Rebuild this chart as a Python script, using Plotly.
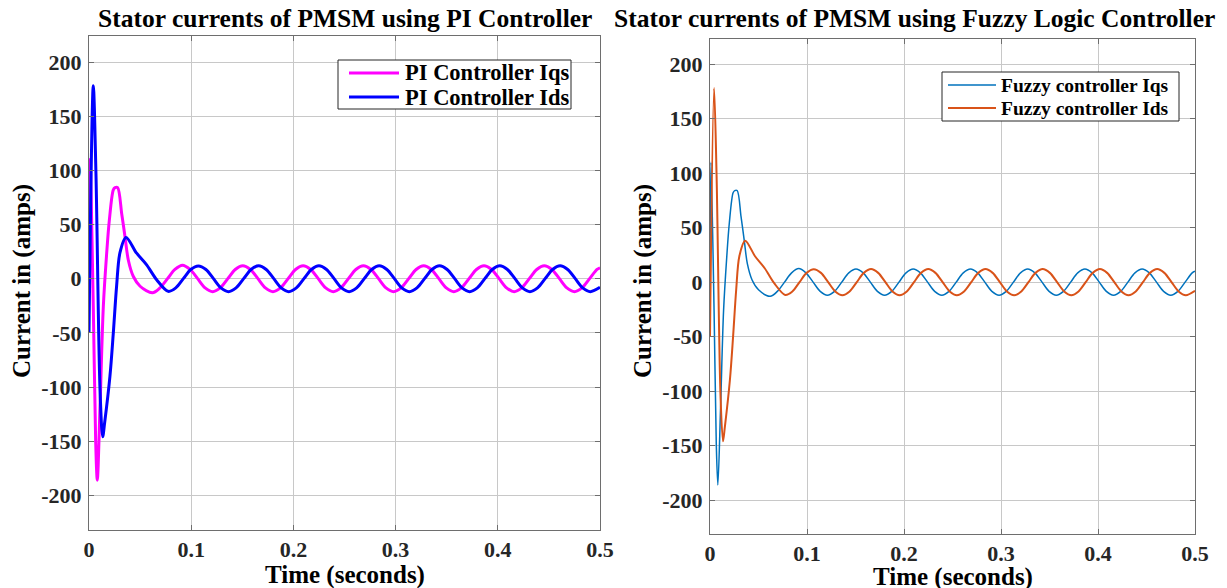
import plotly.graph_objects as go

# ---- data ----
t_iqs = [0, 0.001, 0.0042, 0.0065, 0.0081, 0.0108, 0.014, 0.0173, 0.0199, 0.0238, 0.0255, 0.028,
         0.032, 0.0352, 0.0385, 0.0434, 0.050,
         0.0620, 0.0694, 0.0768, 0.0841, 0.0915, 0.0989, 0.1063, 0.1136,
         0.1210, 0.1284, 0.1358, 0.1431, 0.1505, 0.1579, 0.1653, 0.1726,
         0.1800, 0.1874, 0.1948, 0.2021, 0.2095, 0.2169, 0.2243, 0.2316,
         0.2390, 0.2464, 0.2538, 0.2611, 0.2685, 0.2759, 0.2833, 0.2906,
         0.2980, 0.3054, 0.3128, 0.3201, 0.3275, 0.3349, 0.3423, 0.3496,
         0.3570, 0.3644, 0.3718, 0.3791, 0.3865, 0.3939, 0.4013, 0.4086,
         0.4160, 0.4234, 0.4308, 0.4381, 0.4455, 0.4529, 0.4603, 0.4676,
         0.4750, 0.4824, 0.4898, 0.4971, 0.500]
iqs = [10, 110, -26, -149, -186, -118, -26, 23.5, 54, 82, 84, 84,
       60, 39, 17, 2, -7,
       -13, -8.5, 0, 8.5, 12.4, 8.5, 0, -8.5,
       -12, -8.5, 0, 8.5, 12, 8.5, 0, -8.5,
       -12, -8.5, 0, 8.5, 12, 8.5, 0, -8.5,
       -12, -8.5, 0, 8.5, 12, 8.5, 0, -8.5,
       -12, -8.5, 0, 8.5, 12, 8.5, 0, -8.5,
       -12, -8.5, 0, 8.5, 12, 8.5, 0, -8.5,
       -12, -8.5, 0, 8.5, 12, 8.5, 0, -8.5,
       -12, -8.5, 0, 8.5, 10]

t_ids = [0, 0.0042, 0.0068, 0.0108, 0.0134, 0.0153, 0.0205, 0.0238, 0.027, 0.0303, 0.0362,
         0.0466, 0.0564, 0.0662,
         0.0775, 0.0849, 0.0923, 0.0996, 0.1070, 0.1144, 0.1218, 0.1291,
         0.1365, 0.1439, 0.1513, 0.1586, 0.1660, 0.1734, 0.1808, 0.1881,
         0.1955, 0.2029, 0.2103, 0.2176, 0.2250, 0.2324, 0.2398, 0.2471,
         0.2545, 0.2619, 0.2693, 0.2766, 0.2840, 0.2914, 0.2988, 0.3061,
         0.3135, 0.3209, 0.3283, 0.3356, 0.3430, 0.3504, 0.3578, 0.3651,
         0.3725, 0.3799, 0.3873, 0.3946, 0.4020, 0.4094, 0.4168, 0.4241,
         0.4315, 0.4389, 0.4463, 0.4536, 0.4610, 0.4684, 0.4758, 0.4831,
         0.4905, 0.500]
ids = [-50, 178, 97, -103, -146, -133, -90, -50, -7, 24, 38,
       23.5, 12.7, -1,
       -11.7, -8.5, 0, 8.5, 11.8, 8.5, 0, -8.5,
       -12, -8.5, 0, 8.5, 12, 8.5, 0, -8.5,
       -12, -8.5, 0, 8.5, 12, 8.5, 0, -8.5,
       -12, -8.5, 0, 8.5, 12, 8.5, 0, -8.5,
       -12, -8.5, 0, 8.5, 12, 8.5, 0, -8.5,
       -12, -8.5, 0, 8.5, 12, 8.5, 0, -8.5,
       -12, -8.5, 0, 8.5, 12, 8.5, 0, -8.5,
       -12, -8]

x_ticks = [0, 0.1, 0.2, 0.3, 0.4, 0.5]
x_ticktext = ["0", "0.1", "0.2", "0.3", "0.4", "0.5"]
y_ticks = [-200, -150, -100, -50, 0, 50, 100, 150, 200]
y_ticktext = ["-200", "-150", "-100", "-50", "0", "50", "100", "150", "200"]

left_names = ["PI Controller Iqs", "PI Controller Ids"]
right_names = ["Fuzzy controller Iqs", "Fuzzy controller Ids"]
left_colors = ["#FF00FF", "#0000FF"]
right_colors = ["#0072BD", "#D95319"]

# page body has an 8px margin: figure is placed at (8, 8) in the window
OFF = 8
W, H = 1227 - OFF, 588 - OFF
FONT = "Liberation Serif"

def px(x):
    return (x - OFF) / W

def py(y):
    return 1 - (y - OFF) / H

fig = go.Figure()

fig.add_trace(go.Scatter(x=t_iqs, y=iqs, mode="lines", name=left_names[0],
                         line=dict(color=left_colors[0], width=3, shape="spline", smoothing=0.9),
                         xaxis="x", yaxis="y"))
fig.add_trace(go.Scatter(x=t_ids, y=ids, mode="lines", name=left_names[1],
                         line=dict(color=left_colors[1], width=3, shape="spline", smoothing=0.9),
                         xaxis="x", yaxis="y"))
fig.add_trace(go.Scatter(x=t_iqs, y=iqs, mode="lines", name=right_names[0],
                         line=dict(color=right_colors[0], width=1.5, shape="spline", smoothing=0.9),
                         xaxis="x2", yaxis="y2"))
fig.add_trace(go.Scatter(x=t_ids, y=ids, mode="lines", name=right_names[1],
                         line=dict(color=right_colors[1], width=2, shape="spline", smoothing=0.9),
                         xaxis="x2", yaxis="y2"))

tickfont = dict(family=FONT, size=22, color="#262626", weight="bold")
common_x = dict(range=[0, 0.5], tickvals=x_ticks, ticktext=x_ticktext, showgrid=True,
                gridcolor="#c8c8c8", gridwidth=1, showline=True, linecolor="#6e6e6e", linewidth=1,
                mirror="ticks", ticks="inside", ticklen=5, tickcolor="#6e6e6e", zeroline=False,
                tickfont=tickfont, ticklabelstandoff=0, automargin=False)
common_y = dict(tickvals=y_ticks, ticktext=y_ticktext, showgrid=True,
                gridcolor="#c8c8c8", gridwidth=1, showline=True, linecolor="#6e6e6e", linewidth=1,
                mirror="ticks", ticks="inside", ticklen=5, tickcolor="#6e6e6e", zeroline=False,
                tickfont=tickfont, ticklabelstandoff=2, automargin=False)

fig.update_layout(
    width=W, height=H, autosize=False,
    margin=dict(l=0, r=0, t=0, b=0, autoexpand=False),
    paper_bgcolor="white", plot_bgcolor="white",
    xaxis=dict(common_x, domain=[px(89), px(600)], anchor="y"),
    yaxis=dict(common_y, domain=[py(530), py(36)], range=[-232, 224], anchor="x"),
    xaxis2=dict(common_x, domain=[px(710), px(1195)], anchor="y2"),
    yaxis2=dict(common_y, domain=[py(534), py(39)], range=[-231, 223], anchor="x2"),
    showlegend=False,
)

# legend boxes (drawn as in the reference)
shapes = []
annotations = []

def add_legend(box, rows_y, line_x, text_x, names, colors, widths, size):
    x0, y0, x1, y1 = box
    shapes.append(dict(type="rect", xref="paper", yref="paper",
                       x0=px(x0), x1=px(x1), y0=py(y1), y1=py(y0),
                       line=dict(color="#262626", width=1), fillcolor="white", layer="above"))
    for name, color, w, ry in zip(names, colors, widths, rows_y):
        shapes.append(dict(type="line", xref="paper", yref="paper",
                           x0=px(line_x[0]), x1=px(line_x[1]), y0=py(ry), y1=py(ry),
                           line=dict(color=color, width=w), layer="above"))
        annotations.append(dict(text=name, x=px(text_x), y=py(ry), xanchor="left",
                                yanchor="middle", xref="paper", yref="paper", showarrow=False,
                                font=dict(family=FONT, size=size, color="black", weight="bold")))

add_legend((338, 60, 571, 109), (73, 97), (349, 399), 403, left_names, left_colors, (3, 3), 22.5)
add_legend((942, 72, 1179, 121), (85, 108), (948, 996), 999, right_names, right_colors, (1.5, 2), 19.5)

ann_font_title = dict(family=FONT, size=25.5, color="black", weight="bold")
ann_font_label = dict(family=FONT, size=25, color="black", weight="bold")
for text, x, y, ang, f in [
    ("Stator currents of PMSM using PI Controller", 345, 19, 0, ann_font_title),
    ("Stator currents of PMSM using Fuzzy Logic Controller", 914, 19, 0, ann_font_title),
    ("Time (seconds)", 345, 575, 0, ann_font_label),
    ("Time (seconds)", 953, 577, 0, ann_font_label),
    ("Current in (amps)", 22, 281, -90, ann_font_label),
    ("Current in (amps)", 643, 281, -90, ann_font_label),
]:
    annotations.append(dict(text=text, x=px(x), y=py(y), textangle=ang, font=f,
                            xref="paper", yref="paper", xanchor="center", yanchor="middle",
                            showarrow=False))

fig.update_layout(shapes=shapes, annotations=annotations)

fig.write_html("out.html")
